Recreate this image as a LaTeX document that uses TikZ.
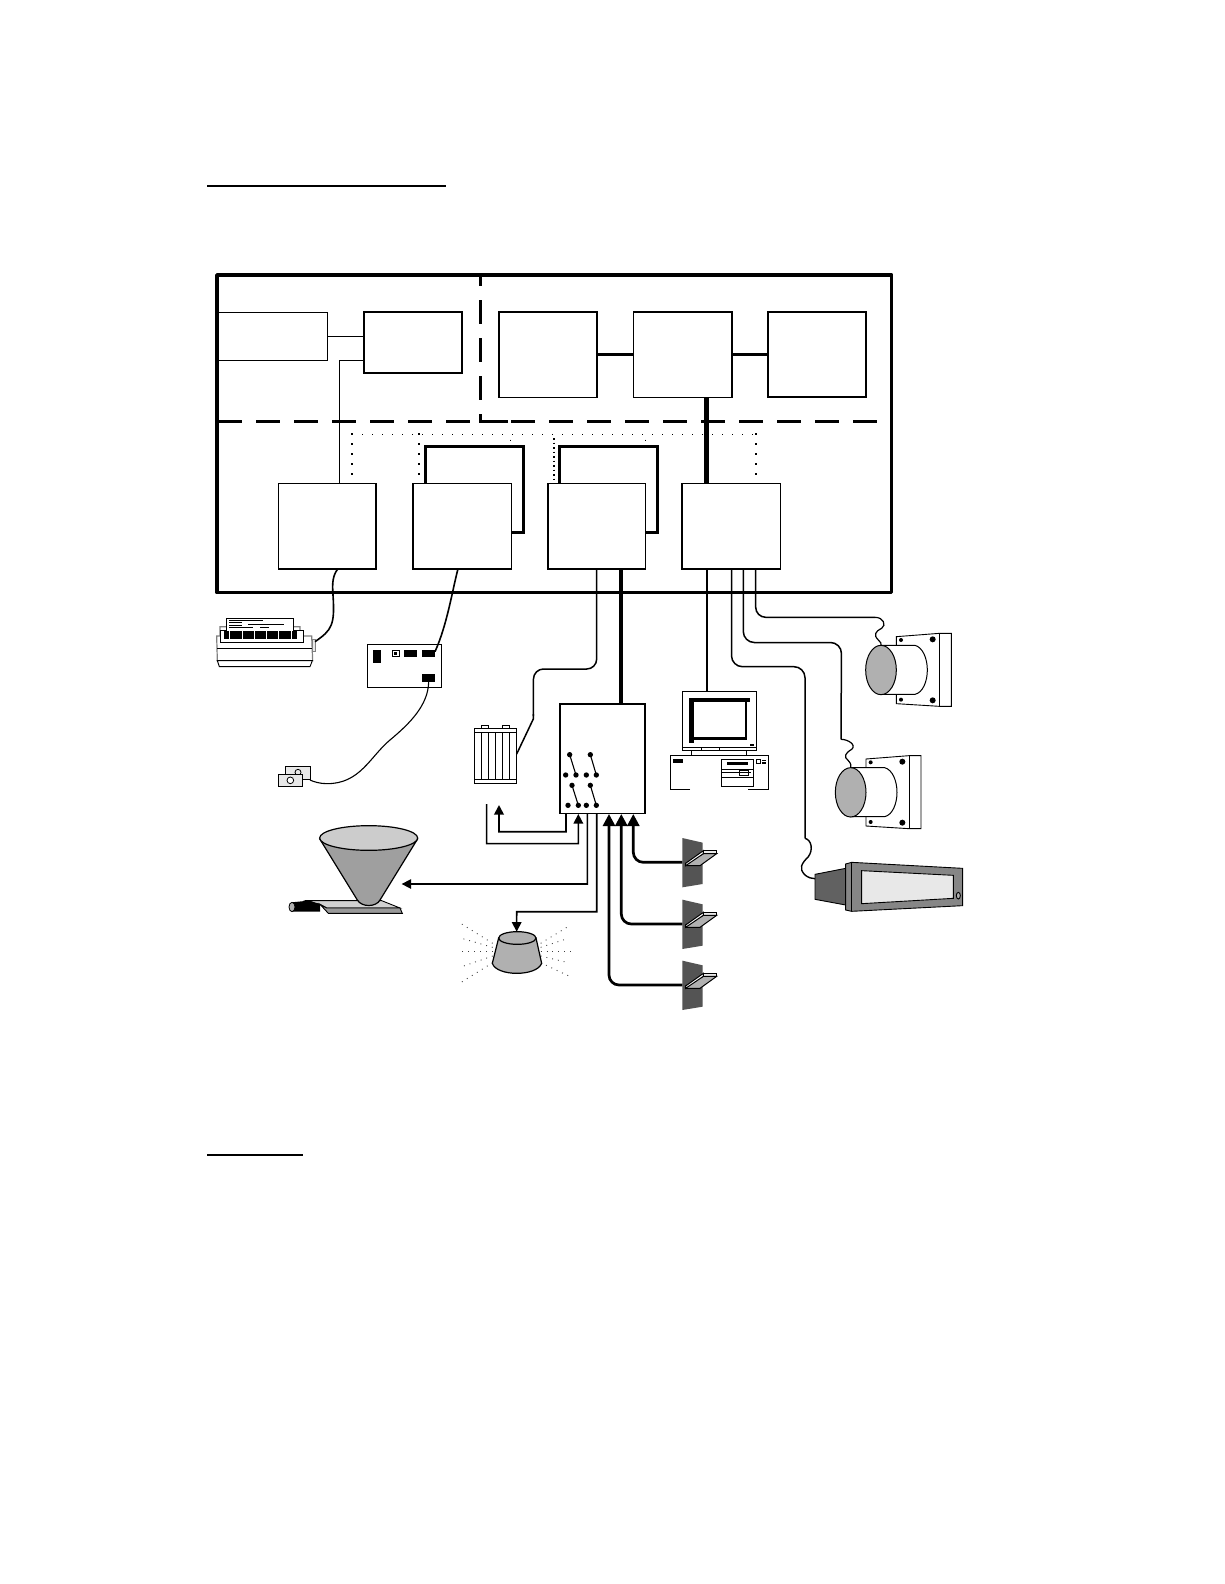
\documentclass[tikz,border=0pt]{standalone}
\usetikzlibrary{arrows.meta}
\definecolor{sensorgray}{gray}{0.33}
\definecolor{dispback}{gray}{0.38}
\definecolor{midgray}{gray}{0.69}
\definecolor{lightgr}{gray}{0.91}
\definecolor{traytop}{gray}{0.82}
\definecolor{traystrip}{gray}{0.6}
\tikzset{
  sysbox/.style={draw,fill=white,anchor=north west,inner sep=0pt,outer sep=0pt,line width=1.6pt},
  dashdiv/.style={line width=2.8pt,dash pattern=on 23.5pt off 14.5pt},
  dotdiv/.style={line width=1pt,dash pattern=on 1pt off 9pt},
  dotdown/.style={line width=2pt,dash pattern=on 2pt off 8pt},
  tipa/.style={-{Triangle[width=9.5pt,length=9.5pt]}},
  tipb/.style={-{Triangle[width=12pt,length=12pt]}},
  dev/.style={draw,line width=.9pt},
  ray/.style={line width=.9pt,black!75,dash pattern=on .9pt off 5pt},
}
\begin{document}
\begin{tikzpicture}[x=1pt,y=-1pt]
\useasboundingbox (0,0) rectangle (1224,1584);
\fill[white] (0,0) rectangle (1224,1584);
% heading rules
\draw[line width=2pt] (207,186) -- (446,186);
\draw[line width=2pt] (207,1155) -- (303,1155);

% dotted bus
\draw[dotdiv] (352.3,434.3) -- (755.7,434.3);
\draw[dotdown] (352.3,433) -- (352.3,483);
\draw[dotdown] (419,433) -- (419,483);
\draw[dotdown,dash pattern=on 1.5pt off 3pt] (554,438) -- (554,483);
\draw[dotdown] (755.7,433) -- (755.7,483);
\draw[line width=1pt] (510.7,439.5) -- (510.7,440.5);
\draw[line width=1pt] (645.7,439.5) -- (645.7,440.5);

% boxes behind
\node[sysbox,line width=2.5pt,minimum width=98.4pt,minimum height=86pt] (Fb) at (425.3,446.3) {};
\node[sysbox,line width=2.5pt,minimum width=98pt,minimum height=86pt] (Gb) at (559.7,446.3) {};

% upper boxes
\node[sysbox,line width=1pt,minimum width=109.3pt,minimum height=48pt] (L) at (218,312.3) {};
\node[sysbox,line width=1.7pt,minimum width=98.6pt,minimum height=61pt] (A) at (363.7,311.7) {};
\node[sysbox,minimum width=98pt,minimum height=85.6pt] (B) at (498.7,311.7) {};
\node[sysbox,minimum width=98.4pt,minimum height=85.6pt] (C) at (633.3,311.7) {};
\node[sysbox,line width=1.8pt,minimum width=98.3pt,minimum height=85.6pt] (D) at (768,311.7) {};
% lower boxes
\node[sysbox,minimum width=97.7pt,minimum height=85.4pt] (E) at (278.3,483.3) {};
\node[sysbox,minimum width=98.6pt,minimum height=85.4pt] (F) at (412.7,483.3) {};
\node[sysbox,minimum width=97.6pt,minimum height=85.4pt] (G) at (547.7,483.3) {};
\node[sysbox,minimum width=98.6pt,minimum height=85.4pt] (H) at (681.7,483.3) {};

% links in the cabinet
\draw[line width=1pt] (L.east |- 0,336.3) -- (A.west |- 0,336.3);
\draw[line width=1.3pt] (A.west |- 0,360.7) -- (339.3,360.7) -- (339.3,0 |- E.north);
\draw[line width=2.5pt] (B.east) -- (C.west);
\draw[line width=2.5pt] (C.east) -- (D.west);
\draw[line width=5pt] (706.7,0 |- C.south) -- (706.7,0 |- H.north);

% frame and dividers
\draw[line width=3.5pt,line join=round] (217,275) rectangle (891.7,592.7);
\draw[dashdiv,dash phase=13pt] (480.7,275) -- (480.7,408);
\draw[line width=2.8pt] (480.7,414) -- (480.7,421.3) -- (508,421.3);
\draw[dashdiv] (218,421.3) -- (475,421.3);
\draw[dashdiv] (511,421.3) -- (877.7,421.3);

% ---------- printer
\begin{scope}[shift={(200,590)},scale=1/3]
\coordinate (prn) at (345,155);
\coordinate (pcbA) at (705,185);
\coordinate (tagEnd) at (330,570);
\draw[gray,line width=1.2pt,fill=white] (60,138) -- (60,110) -- (300,110) -- (300,138) -- (335,138) -- (338,212) -- (52,212) -- (50,138) -- cycle;
\draw[dev] (52,175) -- (337,175);
\draw[dev,fill=white] (62,120) rectangle (310,158);
\draw[dev,fill=white] (52,212) -- (337,212) -- (330,230) -- (58,230) -- cycle;
\draw[dev,fill=white] (80,122) -- (80,85) -- (281,85) -- (281,122);
\foreach \a/\b/\c in {88/188/92,88/125/98,145/252/102,88/125/107,88/160/112,180/207/112}
  \draw[line width=.7pt] (\a,\c) -- (\b,\c);
\foreach \a/\b in {72/88,90/126,129/162,165/198,201/234,237/273,277/291}
  \fill (\a,122) rectangle (\b,147);
\draw[gray,line width=1pt,fill=lightgr] (338,147) rectangle (347,185);
% pcb
\node[draw,line width=1.1pt,fill=white,anchor=north west,inner sep=0pt,outer sep=0pt,minimum width=74pt,minimum height=43pt] (pcb) at (502,163) {};
\fill (520,180) rectangle (543,218);
\draw[line width=.8pt] (577,181) rectangle (597,200);
\fill (583,187) rectangle (591,194);
\fill (612,180) rectangle (651,201);
\fill (666,180) rectangle (705,201);
\fill (666,252) rectangle (705,275);
\coordinate (pcbB) at (686,275);
% key tag
\draw[dev,fill=lightgr] (255,529) rectangle (332,568);
\draw[line width=.8pt] (294,547) circle (9);
\draw[dev,fill=lightgr] (235,552) rectangle (308,589);
\draw[line width=.8pt,fill=white] (271,571) circle (10);
\draw[line width=1.1pt] (pcbB) .. controls (685,345) and (630,400) .. (570,450) .. controls (510,500) and (480,582) .. (380,581) .. controls (360,581) and (340,575) .. (tagEnd);
\end{scope}
\draw[line width=1.6pt] (338,0 |- E.south) .. controls (333,575) and (332,582) .. (333,595) .. controls (335,625) and (332,630) .. (prn);
\draw[line width=1.6pt] (458,0 |- F.south) .. controls (452,592) and (447,625) .. (pcbA);

% ---------- battery, switch box, computer
\begin{scope}[shift={(450,650)},scale=1/3]
\node[draw,line width=1.7pt,fill=white,anchor=north west,inner sep=0pt,outer sep=0pt,minimum width=85.3pt,minimum height=109.7pt] (SW) at (330,161) {};
\draw[dev,fill=white] (94,226) rectangle (116,235);
\draw[dev,fill=white] (157,226) rectangle (179,235);
\node[draw,line width=.9pt,fill=white,anchor=north west,inner sep=0pt,outer sep=0pt,minimum width=42.3pt,minimum height=55pt] (bat) at (73,235) {};
\draw[dev] (73,247) -- (200,247) (73,388) -- (200,388);
\foreach \x in {94,115,137,158,179} \draw[dev] (\x,247) -- (\x,388);
\coordinate (batIn) at (200,312);
% switches
\foreach \a/\ay/\b/\c/\y in {359/314/347/378/375,421/314/409/439/375,366/406/354/385/466,421/406/409/439/466}{
  \fill (\a,\ay) circle (8);
  \fill (\b,\y) circle (8);
  \fill (\c,\y) circle (8);
  \draw[line width=1.1pt] (\a,\ay) -- (\c,\y);
}
% computer
\node[draw,line width=1pt,fill=white,anchor=north west,inner sep=0pt,outer sep=0pt,minimum width=74pt,minimum height=56.3pt] (mon) at (697,124) {};
\fill (718,145) rectangle (900,156);
\fill (718,145) rectangle (733,278);
\fill (718,262) rectangle (892,270);
\fill (885,156) rectangle (892,270);
\fill[white] (733,160) rectangle (885,262);
\fill (900,282) rectangle (912,288);
\draw[dev] (697,301) rectangle (919,293);
\draw[dev] (755,293) -- (755,301) (808,293) -- (808,301);
\draw[dev] (725,301) -- (725,316) (889,301) -- (889,316);
\draw[dev] (720,418) -- (661,418) -- (661,316) -- (956,316) -- (956,418) -- (894,418);
\fill (669,327) rectangle (699,339);
\draw[dev] (814,328) rectangle (911,409);
\draw[dev] (814,358) -- (911,358) (814,383) -- (911,383) (814,368) -- (903,368);
\fill (830,336) rectangle (893,345);
\draw[dev] (868,361) rectangle (895,376);
\draw[dev] (919,328) rectangle (932,341);
\fill (937,329) rectangle (948,334);
\fill (937,337) rectangle (948,341);
% switch box side lines
\coordinate (retA) at (147,465);
\coordinate (retAs) at (348,490);
\coordinate (retB) at (110,462);
\coordinate (retBe) at (385,492);
\draw[tipa,line width=1.8pt] (retAs) -- (348,545) -- (147,545) -- (retA);
\draw[tipa,line width=1.4pt] (retB) -- (110,581) -- (385,581) -- (retBe);
\end{scope}

% cables from G
\draw[line width=1.5pt,rounded corners=10pt] (596.7,0 |- G.south) -- (596.7,669) -- (533.5,669) -- (533.3,716);
\draw[line width=1.5pt] (533.3,714) -- (533.3,719) -- (batIn);
\draw[line width=4pt] (621,0 |- G.south) -- (621,0 |- SW.north);
% cable to monitor
\draw[line width=1.4pt] (707,0 |- H.south) -- (707,0 |- mon.north);

% ---------- speakers and display
\begin{scope}[shift={(780,610)},scale=1/3]
\foreach \dx/\dy/\n in {0/0/1,-91/367/2}{
\begin{scope}[shift={(\dx,\dy)}]
\draw[line width=.9pt,fill=white] (349,80) -- (478,70) -- (514,70) -- (514,289) -- (478,289) -- (349,281) -- cycle;
\draw[line width=.9pt] (478,70) -- (478,289);
\fill (363,90) circle (6) (458,88) circle (9) (363,269) circle (6) (458,271) circle (9);
\draw[line width=1pt,fill=white] (303,106) -- (405,106) .. controls (428,112) and (442,145) .. (442,180) .. controls (442,215) and (428,248) .. (405,253) -- (303,253) -- cycle;
\draw[line width=1pt,fill=midgray] (303,180) ellipse (46 and 74);
\coordinate (spk\n) at (303,106);
\end{scope}}
\coordinate (dispIn) at (105,806);
\draw[line width=.9pt,fill=dispback] (105,793) -- (197,775) -- (197,885) -- (105,868) -- cycle;
\draw[line width=.9pt,fill=gray!95] (197,762) -- (215,757) -- (548,775) -- (548,887) -- (215,904) -- (197,900) -- cycle;
\draw[line width=.9pt] (215,757) -- (215,904);
\draw[line width=.9pt,fill=lightgr] (245,782) -- (520,796) -- (520,865) -- (245,881) -- cycle;
\draw[line width=.9pt,fill=midgray] (535,857) ellipse (6 and 10);
% cable ends
\coordinate (c1a) at (285,22);
\coordinate (c2a) at (183,388);
\coordinate (c3a) at (75,685);
\draw[line width=1.2pt] (c1a) .. controls (310,22) and (320,45) .. (305,55) .. controls (285,65) and (280,75) .. (295,90) .. controls (302,97) and (305,100) .. (spk1);
\draw[line width=1.2pt] (c2a) .. controls (205,388) and (230,405) .. (215,418) .. controls (195,430) and (190,440) .. (205,452) .. controls (213,460) and (214,468) .. (spk2);
\draw[line width=1.4pt] (c3a) .. controls (95,690) and (100,720) .. (85,740) .. controls (65,760) and (55,775) .. (75,795) .. controls (85,803) and (95,806) .. (dispIn);
\end{scope}
\draw[line width=1.5pt,rounded corners=10pt] (755.7,0 |- H.south) -- (755.7,617.3) -- (c1a);
\draw[line width=1.5pt,rounded corners=11pt] (743.3,0 |- H.south) -- (743.3,642.5) -- (841.5,642.5) -- (c2a);
\draw[line width=1.5pt,rounded corners=11pt] (731.5,0 |- H.south) -- (731.5,666.7) -- (805,666.7) -- (c3a);

% ---------- hopper and beacon
\begin{scope}[shift={(270,810)},scale=1/3]
\draw[line width=.9pt,fill=traytop] (110,272) -- (335,272) -- (390,294) -- (170,294) -- (150,283) -- cycle;
\draw[line width=.9pt,fill=traystrip] (150,283) -- (170,294) -- (390,294) -- (397,310) -- (175,310) -- cycle;
\draw[line width=1.2pt,fill=gray!75] (150,88) -- (262,270) .. controls (275,292) and (318,292) .. (330,270) -- (442,88) -- cycle;
\draw[line width=1.2pt,fill=gray!40] (296,84) ellipse (147 and 37);
\fill (65,277) -- (115,272) -- (150,283) -- (150,305) -- (65,305) -- cycle;
\draw[line width=.8pt,fill=midgray] (66,291) ellipse (9 and 14);
\coordinate (hop) at (395,222);
\coordinate (bea) at (740,365);
\foreach \a/\b/\c/\d in {668/400/575/342,668/412/575/385,668/424/575/424,668/438/575/470,668/458/575/516,812/400/897/348,812/412/895/385,812/424/905/424,812/438/895/458,812/458/905/502}
  \draw[ray] (\a,\b) -- (\c,\d);
\draw[line width=1.2pt,fill=midgray] (686,384) -- (667,460) .. controls (680,500) and (800,500) .. (815,460) -- (798,384) -- cycle;
\draw[line width=1.2pt,fill=midgray] (742,384) ellipse (56 and 19);
\end{scope}
\draw[tipa,line width=1.6pt] (587.3,0 |- SW.south) -- (587.3,884) -- (hop);
\draw[tipa,line width=1.6pt] (596.7,0 |- SW.south) -- (596.7,911.7) -- (516.7,911.7) -- (bea);

% ---------- level sensors
\begin{scope}[shift={(590,810)},scale=1/3]
\foreach \dy/\n in {0/a,185/b,368/c}{
\begin{scope}[shift={(0,\dy)}]
\fill[sensorgray] (277,84) -- (338,98) -- (338,222) -- (277,232) -- cycle;
\draw[line width=.9pt,fill=lightgr] (340,122) -- (380,122) -- (380,131) -- (340,131) -- cycle;
\draw[line width=1pt,fill=midgray] (287,160) -- (340,131) -- (380,131) -- (330,167) -- (287,167) -- cycle;
\draw[line width=1pt,fill=white] (287,160) -- (340,122) -- (340,131) -- (287,167) -- cycle;
\coordinate (sen\n) at (277,157);
\end{scope}}
\end{scope}
\draw[tipb,line width=2.7pt,rounded corners=10pt] (sena) -- (633.3,862.3) -- (633.3,814);
\draw[tipb,line width=2.7pt,rounded corners=10pt] (senb) -- (621.3,924) -- (621.3,814);
\draw[tipb,line width=2.7pt,rounded corners=10pt] (senc) -- (609,985) -- (609,814);
\end{tikzpicture}
\end{document}
